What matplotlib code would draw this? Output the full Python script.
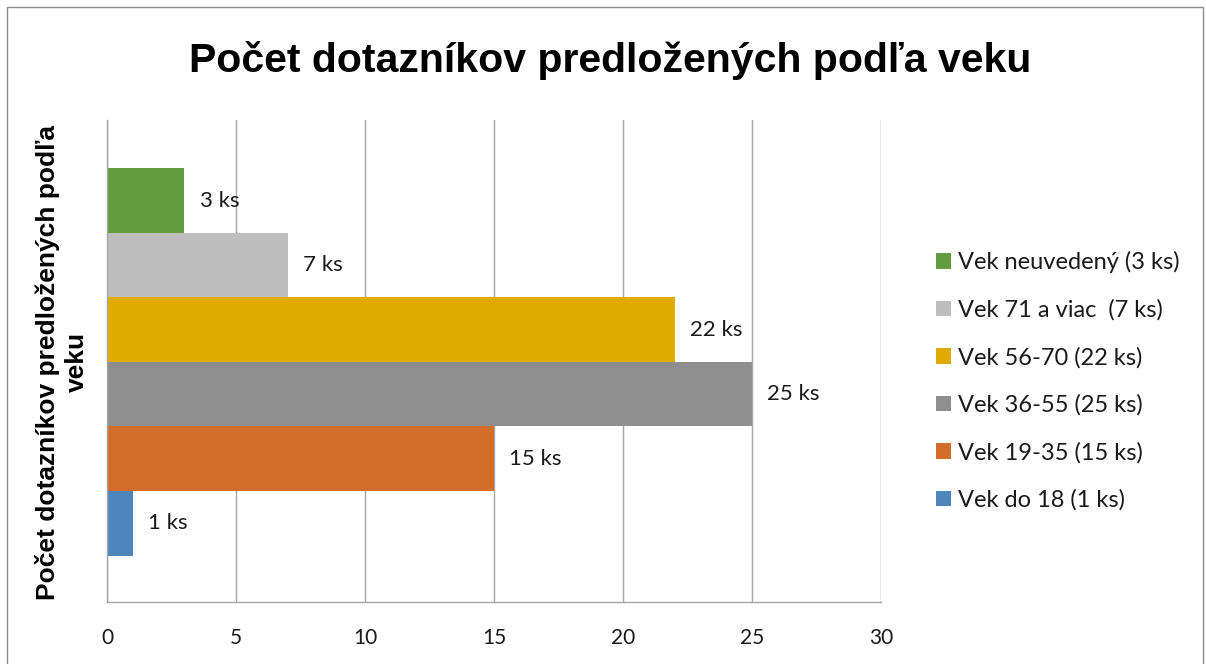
import matplotlib.pyplot as plt
from matplotlib.patches import Rectangle

# series from bottom to top
series = ['Vek do 18 (1 ks)', 'Vek 19-35 (15 ks)', 'Vek 36-55 (25 ks)',
          'Vek 56-70 (22 ks)', 'Vek 71 a viac  (7 ks)', 'Vek neuvedený (3 ks)']
values = [1, 15, 25, 22, 7, 3]
labels = ['1 ks', '15 ks', '25 ks', '22 ks', '7 ks', '3 ks']
colors = ['#4E86BC', '#D36E2A', '#8E8E8E', '#E1AA00', '#BEBEBE', '#629B40']

title = 'Počet dotazníkov predložených podľa veku'
ylabel = 'Počet dotazníkov predložených podľa\nveku'

fig = plt.figure(figsize=(12.06, 6.64), dpi=100)
ax = fig.add_axes([107 / 1206, 62 / 664, 774 / 1206, 482 / 664])

n = len(values)
handles = []
for i in range(n):
    pos = i - (n - 1) / 2
    b = ax.barh(pos, values[i], height=1.0, color=colors[i], zorder=2, label=series[i])
    handles.append(b)
    ax.annotate(labels[i], (values[i], pos), xytext=(11, 0), textcoords='offset points',
                va='center', ha='left', fontsize=16, family='Lato', color='#1a1a1a')

ax.set_xlim(0, 30)
ax.set_ylim(-3.72, 3.75)
ax.set_xticks(range(0, 31, 5))
ax.set_yticks([])
ax.grid(axis='x', color='#A6A6A6', linewidth=1.0, zorder=0)
for s in ['top', 'right']:
    ax.spines[s].set_visible(False)
for s in ['left', 'bottom']:
    ax.spines[s].set_color('#A6A6A6')
    ax.spines[s].set_linewidth(1.0)
ax.tick_params(axis='x', length=0, pad=19, labelsize=15, labelcolor='#1a1a1a')
for t in ax.get_xticklabels():
    t.set_family('Lato')

leg = fig.legend(handles[::-1], series[::-1], loc='center left',
                 bbox_to_anchor=(915 / 1206, (664 - 381) / 664), frameon=False,
                 prop={'family': 'Lato', 'size': 17}, handlelength=0.62, handleheight=0.62,
                 handletextpad=0.3, labelspacing=1.1)
for t in leg.get_texts():
    t.set_color('#1a1a1a')

fig.text(610 / 1206, (664 - 61) / 664, title, ha='center', va='center',
         fontsize=29.5, fontweight='bold', family='Liberation Sans')
fig.text(62 / 1206, (664 - 362) / 664, ylabel, ha='center', va='center', rotation=90,
         fontsize=19, fontweight='bold', family='Liberation Sans', multialignment='center',
         linespacing=1.25)

fig.patches.append(Rectangle((7 / 1206, -0.01), 1196 / 1206, (664 - 7) / 664 + 0.01,
                             transform=fig.transFigure, fill=False, edgecolor='#8C8C8C',
                             linewidth=1.0))

fig.savefig('out.png', dpi=100)
